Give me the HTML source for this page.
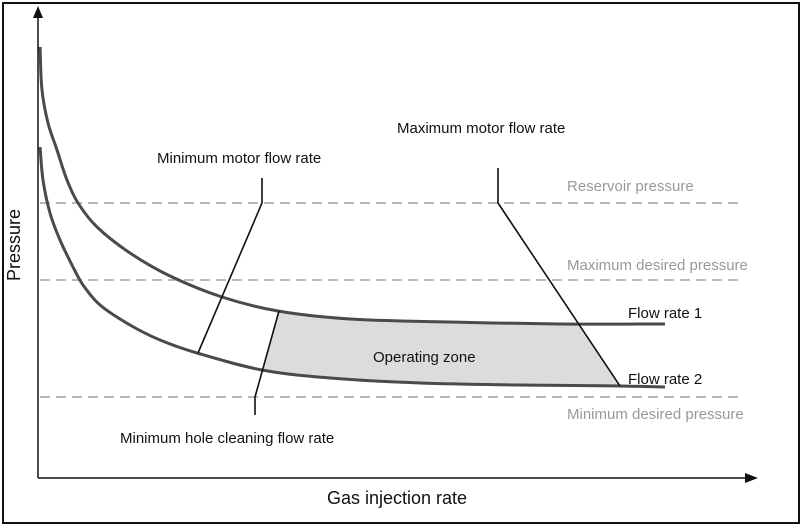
<!DOCTYPE html>
<html><head><meta charset="utf-8"><style>
html,body{margin:0;padding:0;background:#fff;}
svg{display:block;font-family:"Liberation Sans",sans-serif;}
</style></head><body>
<svg id="chart" width="803" height="528" viewBox="0 0 803 528">
<rect x="3" y="3" width="796" height="520" fill="#fff" stroke="#111" stroke-width="2"/>
<g id="dashes"></g>
<path id="zone" fill="#dcdcdd" stroke="none"/>
<g id="curves"></g>
<g id="motor"></g>
<line x1="38" y1="478" x2="38" y2="14" stroke="#111" stroke-width="1.5"/>
<polygon points="38,6 33,18 43,18" fill="#111"/>
<line x1="38" y1="478" x2="748" y2="478" stroke="#111" stroke-width="1.5"/>
<polygon points="758,478 745,473 745,483" fill="#111"/>
<text x="20" y="245" font-size="18" fill="#111" text-anchor="middle" transform="rotate(-90 20 245)">Pressure</text>
<text x="397" y="504" font-size="18" fill="#111" text-anchor="middle">Gas injection rate</text>
<text x="567" y="191" font-size="15" fill="#999">Reservoir pressure</text>
<text x="567" y="270" font-size="15" fill="#999">Maximum desired pressure</text>
<text x="567" y="419" font-size="15" fill="#999">Minimum desired pressure</text>
<text x="157" y="163" font-size="15" fill="#111">Minimum motor flow rate</text>
<text x="397" y="133" font-size="15" fill="#111">Maximum motor flow rate</text>
<text x="120" y="443" font-size="15" fill="#111">Minimum hole cleaning flow rate</text>
<text x="628" y="318" font-size="15" fill="#111">Flow rate 1</text>
<text x="628" y="384" font-size="15" fill="#111">Flow rate 2</text>
<text x="373" y="362" font-size="15" fill="#111">Operating zone</text>
</svg>
<script>
const flow1X=[40,42,48,57,67,78,97,130,170,222,278,350,450,560,665];
const flow1Y=[47,90,123,150,180,203,227,253,276,297,311,319,322,324,324];
const flow2X=[40,43,50,60,73,83,100,130,160,197,262,330,420,520,620,665];
const flow2Y=[147,180,213,240,267,285,305,325,340,353,370,378,383,385,386,387];
const limitNames=['reservoir','max-desired','min-desired'];
const limitY=[203,280,397];
const NS='http://www.w3.org/2000/svg';
function mk(t,a,p){const e=document.createElementNS(NS,t);for(const k in a)e.setAttribute(k,a[k]);p.appendChild(e);return e;}
function smooth(xs,ys){
  const n=xs.length, tx=[], ty=[];
  for(let i=0;i<n;i++){const a=Math.max(0,i-1),b=Math.min(n-1,i+1);let dx=xs[b]-xs[a],dy=ys[b]-ys[a];const L=Math.hypot(dx,dy)||1;tx.push(dx/L);ty.push(dy/L);}
  let d='M'+xs[0]+','+ys[0];
  for(let i=0;i<n-1;i++){const s=Math.hypot(xs[i+1]-xs[i],ys[i+1]-ys[i])/3;
    d+=' C'+(xs[i]+tx[i]*s)+','+(ys[i]+ty[i]*s)+' '+(xs[i+1]-tx[i+1]*s)+','+(ys[i+1]-ty[i+1]*s)+' '+xs[i+1]+','+ys[i+1];}
  return d;}
function interp(xs,ys,x){for(let i=0;i<xs.length-1;i++){if(x>=xs[i]&&x<=xs[i+1])return ys[i]+(ys[i+1]-ys[i])*(x-xs[i])/(xs[i+1]-xs[i]);}return ys[ys.length-1];}
const dg=document.getElementById('dashes');
limitY.forEach((y,i)=>{const l=mk('line',{x1:40,x2:740,y1:y,y2:y,stroke:'#a0a0a0','stroke-width':1.6,'stroke-dasharray':'10,6'},dg);

});
const cg=document.getElementById('curves');
const c1=mk('path',{d:smooth(flow1X,flow1Y),fill:'none',stroke:'#4a4a4a','stroke-width':3},cg);


const c2=mk('path',{d:smooth(flow2X,flow2Y),fill:'none',stroke:'#4a4a4a','stroke-width':3},cg);


const hcTop=278, hcBot=262, mmTop=578, mmBot=620;
let pts=[];
for(let x=hcTop;x<=mmTop;x+=4)pts.push([x,interp(flow1X,flow1Y,x)]);
pts.push([mmTop,interp(flow1X,flow1Y,mmTop)]);
for(let x=mmBot;x>=hcBot;x-=4)pts.push([x,interp(flow2X,flow2Y,x)]);
pts.push([hcBot,interp(flow2X,flow2Y,hcBot)]);
document.getElementById('zone').setAttribute('d','M'+pts.map(p=>p.join(',')).join(' L')+' Z');
const mg=document.getElementById('motor');
const lines=[['min-motor-flow-line','262,178 262,203 198,353'],['max-motor-flow-line','498,168 498,203 620,386'],['min-hole-cleaning-line','279,311 255,397 255,415']];
lines.forEach(l=>{const p=mk('polyline',{points:l[1],fill:'none',stroke:'#111','stroke-width':1.6},mg);

});
</script>
</body></html>
